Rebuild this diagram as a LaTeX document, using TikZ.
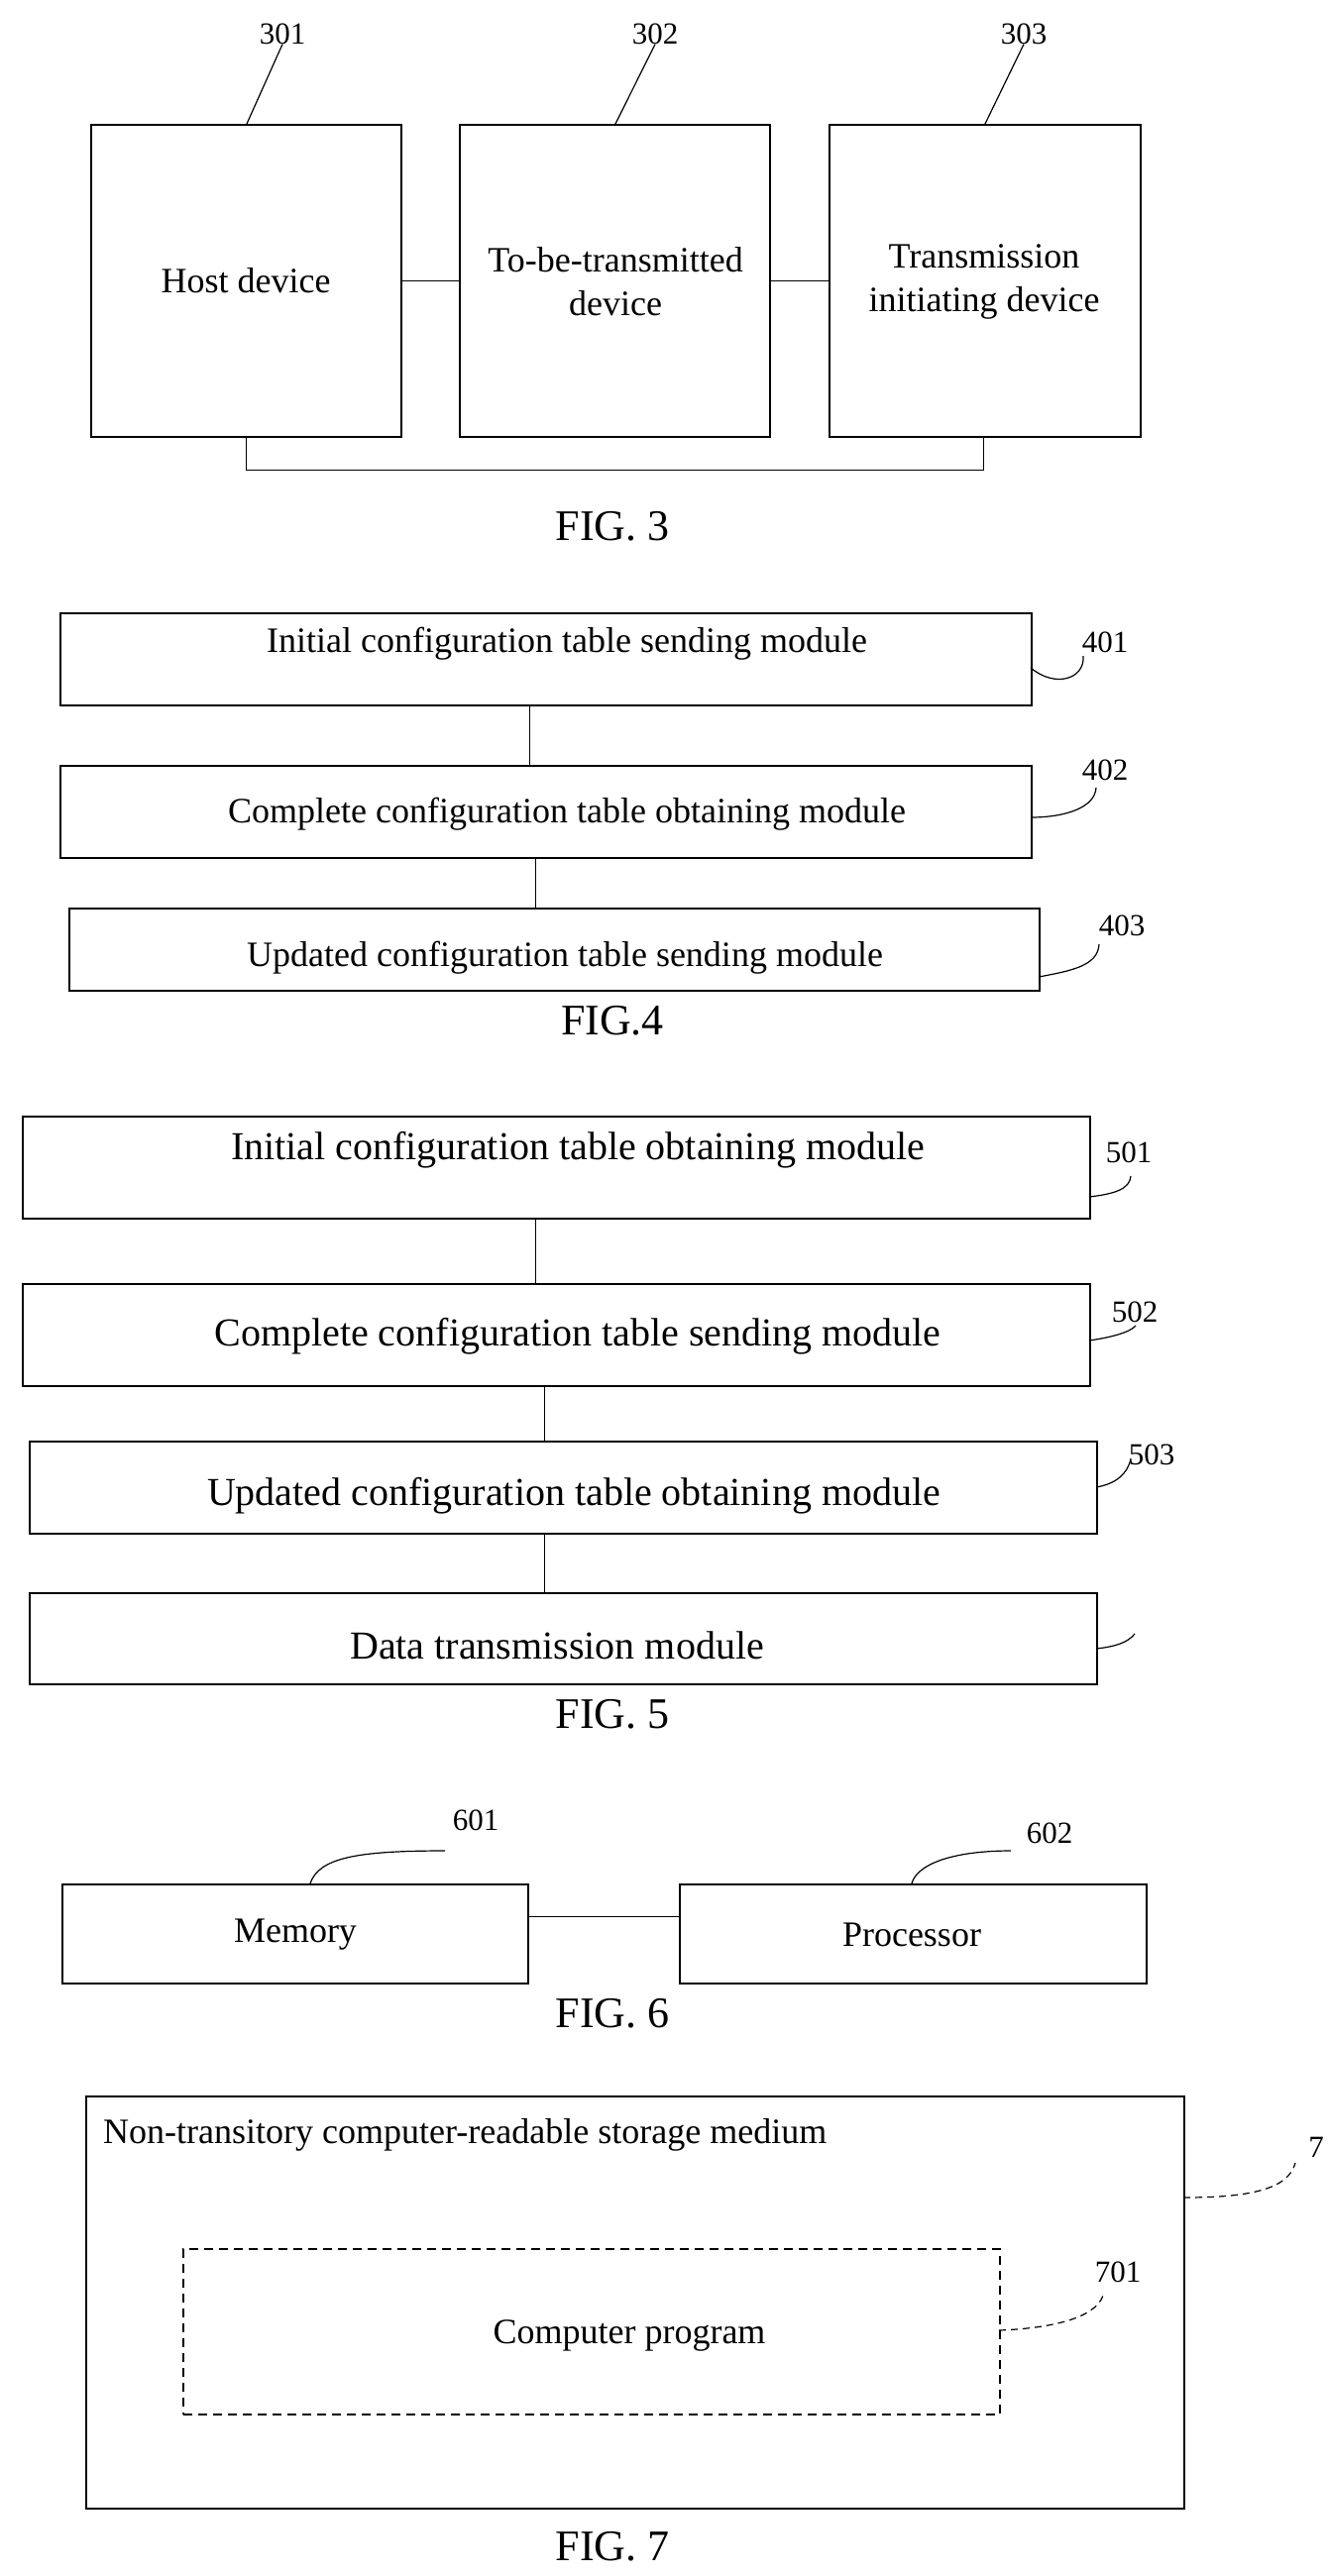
\documentclass[tikz,border=0pt]{standalone}
\usepackage{fontspec}
\setmainfont{Liberation Serif}
\begin{document}
\begin{tikzpicture}[x=1pt,y=-1pt,
  box/.style={draw,line width=1.5pt},
  txt/.style={font=\fontsize{36}{44}\selectfont,align=center,inner sep=0pt},
  txtb/.style={font=\fontsize{40}{48}\selectfont,align=center,inner sep=0pt},
  num/.style={font=\fontsize{31}{36}\selectfont,inner sep=0pt},
  fig/.style={font=\fontsize{44}{50}\selectfont,inner sep=0pt},
  conn/.style={line width=1pt},
  lead/.style={line width=1.2pt},
  dlead/.style={line width=1.2pt,dash pattern=on 7pt off 5pt}]
\useasboundingbox (0,0) rectangle (1339,2600);
% FIG 3
\node[box,minimum width=313pt,minimum height=315pt,anchor=north west] (b301) at (91,125) {};
\node[box,minimum width=313pt,minimum height=315pt,anchor=north west] (b302) at (463,125) {};
\node[box,minimum width=314pt,minimum height=315pt,anchor=north west] (b303) at (836,125) {};
\node[txt] (t301) at (248,283) {Host device};
\node[txt] (t302) at (621,284) {To-be-transmitted\\device};
\node[txt] (t303) at (993,284) {Transmission\\initiating device};
\draw[conn] (b301.east) -- (b302.west);
\draw[conn] (b302.east) -- (b303.west);
\coordinate (c1) at (248,474); \coordinate (c2) at (992,474);
\draw[conn] (248,440) -- (c1) -- (c2) -- (992,440);
\node[num] (n301) at (285,34) {301};
\node[num] (n302) at (661,34) {302};
\node[num] (n303) at (1033,34) {303};
\draw[lead] (249,125) -- (n301.south);
\draw[lead] (621,125) -- (n302.south);
\draw[lead] (994,125) -- (n303.south);
\node[fig] (f3) at (618,531) {FIG. 3};
% FIG 4
\node[box,minimum width=980pt,minimum height=93pt,anchor=north west] (b401) at (60,618) {};
\node[txt] at (572,650) {Initial configuration table sending module};
\node[box,minimum width=980pt,minimum height=93pt,anchor=north west] (b402) at (60,772) {};
\node[txt] at (572,822) {Complete configuration table obtaining module};
\node[box,minimum width=979pt,minimum height=83pt,anchor=north west] (b403) at (69,916) {};
\node[txt] at (570,967) {Updated configuration table sending module};
\draw[conn] (534,711) -- (534,772);
\draw[conn] (540,865) -- (540,916);
\node[num] (n401) at (1115,648) {401};
\node[num] (n402) at (1115,777) {402};
\node[num] (n403) at (1132,934) {403};
\draw[lead] (1040,674) .. controls (1065,695) and (1095,685) .. (1093,662);
\draw[lead] (1040,825) .. controls (1075,825) and (1105,815) .. (1106,795);
\draw[lead] (1048,986) .. controls (1080,980) and (1108,975) .. (1109,953);
\node[fig] (f4) at (618,1030) {FIG.4};
% FIG 5
\node[box,minimum width=1077pt,minimum height=103pt,anchor=north west] (b501) at (22,1126) {};
\node[txtb] at (583,1161) {Initial configuration table obtaining module};
\node[box,minimum width=1077pt,minimum height=103pt,anchor=north west] (b502) at (22,1295) {};
\node[txtb] at (583,1349) {Complete configuration table sending module};
\node[box,minimum width=1077pt,minimum height=93pt,anchor=north west] (b503) at (29,1454) {};
\node[txtb] at (579,1510) {Updated configuration table obtaining module};
\node[box,minimum width=1077pt,minimum height=92pt,anchor=north west] (b504) at (29,1607) {};
\node[txtb] at (562,1661) {Data transmission module};
\draw[conn] (540,1229) -- (540,1295);
\draw[conn] (549,1398) -- (549,1454);
\draw[conn] (549,1547) -- (549,1607);
\node[num] (n501) at (1139,1163) {501};
\node[num] (n502) at (1145,1324) {502};
\node[num] (n503) at (1162,1468) {503};
\draw[lead] (1099,1208) .. controls (1125,1205) and (1140,1200) .. (1141,1187);
\draw[lead] (1099,1353) .. controls (1120,1350) and (1140,1345) .. (1146,1338);
\draw[lead] (1106,1501) .. controls (1125,1498) and (1138,1488) .. (1141,1472);
\draw[lead] (1106,1664) .. controls (1125,1662) and (1138,1658) .. (1145,1649);
\node[fig] (f5) at (618,1730) {FIG. 5};
% FIG 6
\node[box,minimum width=470pt,minimum height=100pt,anchor=north west] (mem) at (62,1901) {};
\node[txt] at (298,1953) {Memory};
\node[box,minimum width=471pt,minimum height=100pt,anchor=north west] (proc) at (685,1901) {};
\node[txt] at (920,1953) {Processor};
\draw[conn] (532,1934) -- (685,1934);
\node[num] (n601) at (480,1837) {601};
\node[num] (n602) at (1059,1850) {602};
\draw[lead] (313,1901) .. controls (322,1875) and (360,1868) .. (449,1868);
\draw[lead] (920,1901) .. controls (925,1882) and (960,1868) .. (1020,1868);
\node[fig] (f6) at (618,2032) {FIG. 6};
% FIG 7
\node[box,minimum width=1108pt,minimum height=416pt,anchor=north west] (outer) at (86,2115) {};
\node[txt,anchor=west] at (104,2155) {Non-transitory computer-readable storage medium};
\node[draw,line width=1.5pt,dash pattern=on 9pt off 6pt,minimum width=824pt,minimum height=167pt,anchor=north west] (inner) at (184,2269) {};
\node[txt] at (635,2357) {Computer program};
\node[num] (n7) at (1328,2167) {7};
\node[num] (n701) at (1128,2293) {701};
\draw[dlead] (1194,2218) .. controls (1260,2218) and (1300,2210) .. (1307,2183);
\draw[dlead] (1008,2352) .. controls (1060,2350) and (1105,2340) .. (1113,2317);
\node[fig] (f7) at (618,2570) {FIG. 7};
\end{tikzpicture}
\end{document}
